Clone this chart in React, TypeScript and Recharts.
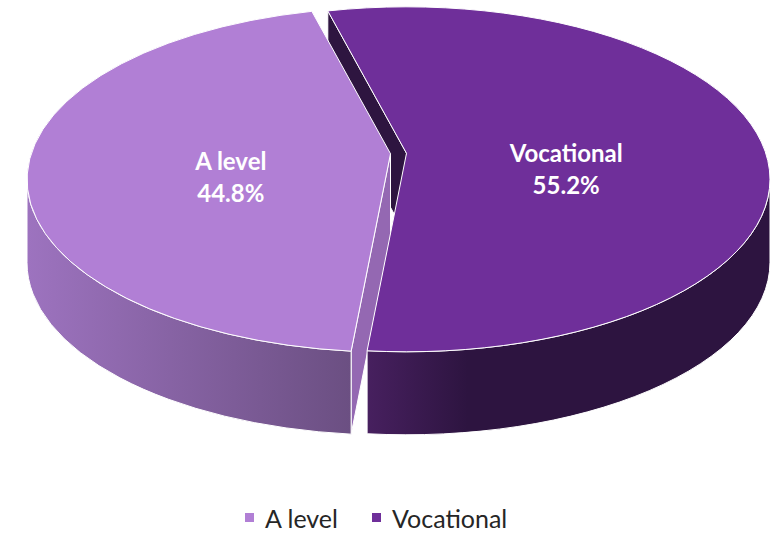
import { PieChart, Pie, Cell, Legend } from "recharts";

const NAMES = ["A level", "Vocational"];
const SHARES = [44.8, 55.2];

const TOP = ["#b17fd5", "#6f2f9a"];
const FACE = ["#9468b2", "#2e1540"];
const WALL_FROM = ["#9d73bf", "#47205f"];
const WALL_TO = ["#6b4f82", "#2d1440"];

const data = NAMES.map((name, i) => ({ name, value: SHARES[i] }));

// fake 3D: ellipse squash, wall depth, apex lift (perspective), explode offset
const RAD = Math.PI / 180;
const TILT = 0.4745;
const DEPTH = 83;
const LIFT = 26;
const EXPLODE = 8;
const FONT = "Lato, 'Noto Sans', sans-serif";

type Pt = [number, number];
const xy = (p: Pt) => `${p[0].toFixed(2)},${p[1].toFixed(2)}`;

function geometry(p: any) {
  const { cx, cy, outerRadius, startAngle, endAngle, midAngle } = p;
  const rx = outerRadius;
  const ry = outerRadius * TILT;
  const x0 = cx + EXPLODE * Math.cos(midAngle * RAD);
  const y0 = cy - EXPLODE * TILT * Math.sin(midAngle * RAD);
  const at = (a: number, dy = 0): Pt => [x0 + rx * Math.cos(a * RAD), y0 - ry * Math.sin(a * RAD) + dy];
  const apex: Pt = [x0, y0 - LIFT];
  return { rx, ry, at, apex, s: startAngle as number, e: endAngle as number };
}

function faceShape(layer: "back" | "front") {
  return (p: any) => {
    const g = geometry(p);
    const faces: number[] = [];
    if (Math.cos(g.s * RAD) > 0) faces.push(g.s);
    if (Math.cos(g.e * RAD) < 0) faces.push(g.e);
    const shown = faces.filter((a) => (layer === "back" ? Math.sin(a * RAD) > 0 : Math.sin(a * RAD) <= 0));
    return (
      <g>
        {shown.map((a) => {
          const low: Pt = [g.apex[0], g.apex[1] + DEPTH];
          const d = `M${xy(g.apex)} L${xy(g.at(a))} L${xy(g.at(a, DEPTH))} L${xy(low)} Z`;
          return <path key={a} d={d} fill={FACE[p.index]} stroke="#fff" strokeWidth={1} strokeLinejoin="round" />;
        })}
      </g>
    );
  };
}

function wallShape(p: any) {
  const g = geometry(p);
  const ranges: [number, number][] = [];
  for (const [lo, hi] of [[-180, 0], [180, 360], [540, 720]]) {
    const a = Math.max(lo, g.s);
    const b = Math.min(hi, g.e);
    if (b > a) ranges.push([a, b]);
  }
  const id = `wall-${p.index}`;
  return (
    <g>
      <defs>
        <linearGradient id={id} x1="0" y1="0" x2="1" y2="0">
          <stop offset="0" stopColor={WALL_FROM[p.index]} />
          <stop offset={p.index === 1 ? 0.25 : 1} stopColor={WALL_TO[p.index]} />
          <stop offset="1" stopColor={WALL_TO[p.index]} />
        </linearGradient>
      </defs>
      {ranges.map(([a, b]) => {
        const d =
          `M${xy(g.at(a))} A${g.rx},${g.ry} 0 0 0 ${xy(g.at(b))} ` +
          `L${xy(g.at(b, DEPTH))} A${g.rx},${g.ry} 0 0 1 ${xy(g.at(a, DEPTH))} Z`;
        return <path key={a} d={d} fill={`url(#${id})`} stroke="#fff" strokeWidth={1} strokeLinejoin="round" />;
      })}
    </g>
  );
}

function topShape(p: any) {
  const g = geometry(p);
  const large = g.e - g.s > 180 ? 1 : 0;
  const d = `M${xy(g.apex)} L${xy(g.at(g.s))} A${g.rx},${g.ry} 0 ${large} 0 ${xy(g.at(g.e))} Z`;
  return <path d={d} fill={TOP[p.index]} stroke="#fff" strokeWidth={1} strokeLinejoin="round" />;
}

function renderLabel(p: any) {
  const { cx, cy, midAngle, outerRadius, percent, index } = p;
  const m = midAngle * RAD;
  const x = cx + EXPLODE * Math.cos(m) + 0.44 * outerRadius * Math.cos(m);
  const y = cy - 0.44 * outerRadius * TILT * Math.sin(m) - 6;
  return (
    <text x={x} y={y} textAnchor="middle" fill="#ffffff" fontFamily={FONT} fontWeight="bold" fontSize={24}>
      <tspan x={x} y={y - 7.5}>{NAMES[index]}</tspan>
      <tspan x={x} y={y + 24.5}>{`${(percent * 100).toFixed(1)}%`}</tspan>
    </text>
  );
}

function renderLegend(props: any) {
  const payload = (props.payload || []).filter((e: any) => e.type !== "none");
  return (
    <div style={{ display: "flex", paddingLeft: 245, fontFamily: FONT, fontSize: 25, lineHeight: "30px", color: "#262626", whiteSpace: "nowrap" }}>
      {payload.map((e: any, i: number) => (
        <span key={e.value} style={{ display: "flex", alignItems: "center", flexShrink: 0, marginLeft: i ? 34 : 0 }}>
          <span style={{ width: 9, height: 9, background: e.color, marginRight: 11, marginTop: -1, flexShrink: 0 }} />
          {e.value}
        </span>
      ))}
    </div>
  );
}

const pieProps = {
  data,
  dataKey: "value",
  nameKey: "name",
  cx: 398.5,
  cy: 179.5,
  outerRadius: 363.5,
  startAngle: 102.5,
  endAngle: 462.5,
  isAnimationActive: false,
};

export default function App() {
  return (
    <div style={{ position: "absolute", left: 0, top: 0, width: 782, height: 534, background: "#fff" }}>
      <PieChart width={782} height={534} margin={{ top: 0, right: 0, bottom: 0, left: 0 }}>
        <Pie {...pieProps} legendType="none" shape={faceShape("back")} />
        <Pie {...pieProps} legendType="none" shape={faceShape("front")} />
        <Pie {...pieProps} legendType="none" shape={wallShape} />
        <Pie {...pieProps} legendType="square" shape={topShape} label={renderLabel} labelLine={false}>
          {NAMES.map((n, i) => (
            <Cell key={n} fill={TOP[i]} />
          ))}
        </Pie>
        <Legend content={renderLegend} wrapperStyle={{ left: 0, top: 503, width: 782 }} />
      </PieChart>
    </div>
  );
}
